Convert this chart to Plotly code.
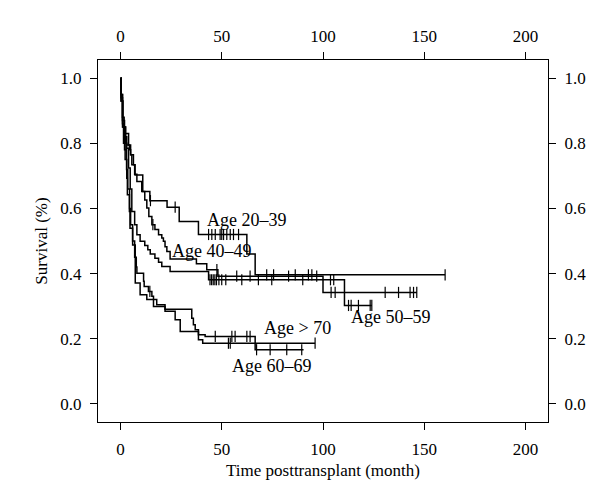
import numpy as np
import plotly.graph_objects as go

# ---------------- data ----------------
groups = ["Age 20–39", "Age 40–49", "Age 50–59", "Age 60–69", "Age > 70"]

t_20_39 = [0, 0.3, 1.0, 1.8, 2.5, 3.1, 4.4, 5.0, 5.6, 7.2, 11.0, 14.5, 23.0, 29.0, 38.5, 62.4, 66.5]
s_20_39 = [1.0, 0.95, 0.88, 0.85, 0.82, 0.795, 0.78, 0.765, 0.734, 0.703, 0.652, 0.624, 0.604, 0.56, 0.52, 0.46, 0.396]
end_20_39 = 160.3
c_20_39 = [14.8, 27.0, 43.5, 45.1, 46.8, 49.2, 50.0, 50.9, 52.5, 54.2, 55.8, 58.3,
           72.2, 75.6, 86.3, 92.8, 94.5, 160.3]

t_40_49 = [0, 0.3, 1.0, 2.0, 4.0, 5.0, 6.4, 7.0, 8.1, 10.5, 12.0, 13.0, 14.0, 15.5, 17.0,
           18.8, 20.4, 21.2, 22.0, 22.9, 24.5, 37.5, 42.6, 48.1, 100.0]
s_40_49 = [1.0, 0.94, 0.87, 0.83, 0.795, 0.765, 0.734, 0.705, 0.683, 0.652, 0.626, 0.601, 0.575,
           0.55, 0.535, 0.519, 0.509, 0.499, 0.482, 0.468, 0.445, 0.43, 0.412, 0.392, 0.342]
end_40_49 = 146.3
c_40_49 = [16.0, 47.6, 57.4, 64.0, 83.0, 96.9, 104.0, 106.0, 130.7, 137.3, 143.0, 144.7, 146.3]

t_50_59 = [0, 0.3, 1.0, 2.5, 3.1, 4.0, 4.8, 5.6, 7.0, 8.1, 9.7, 12.0, 13.5, 14.7, 17.0,
           18.8, 20.4, 24.5, 43.5, 110.6]
s_50_59 = [1.0, 0.93, 0.85, 0.80, 0.785, 0.724, 0.66, 0.591, 0.55, 0.519, 0.499, 0.486, 0.473,
           0.46, 0.447, 0.435, 0.422, 0.406, 0.381, 0.302]
end_50_59 = 124.1
c_50_59 = [44.2, 45.0, 45.8, 46.6, 47.4, 48.6, 50.0, 52.0, 59.9, 68.1, 74.7, 90.0,
           103.7, 105.3, 112.6, 113.9, 117.5, 123.3, 124.1]

t_60_69 = [0, 0.3, 1.0, 1.5, 2.3, 3.1, 3.4, 4.4, 4.7, 6.0, 7.3, 9.7, 13.0, 17.9, 22.0,
           35.2, 36.0, 36.9, 38.5, 41.8, 66.5]
s_60_69 = [1.0, 0.95, 0.86, 0.80, 0.75, 0.693, 0.642, 0.591, 0.539, 0.488, 0.371, 0.335, 0.32,
           0.304, 0.29, 0.263, 0.243, 0.227, 0.212, 0.207, 0.166]
end_60_69 = 90.4
c_60_69 = [46.8, 55.0, 56.6, 62.4, 64.0, 67.2, 73.9, 82.1, 89.5]

t_70 = [0, 0.3, 1.2, 2.0, 3.0, 3.6, 4.5, 5.0, 6.0, 7.0, 7.8, 8.1, 11.4, 11.7, 13.8, 15.5,
        16.3, 22.0, 27.0, 29.5, 38.5, 40.6]
s_70 = [1.0, 0.93, 0.85, 0.78, 0.72, 0.66, 0.60, 0.55, 0.50, 0.45, 0.42, 0.401, 0.376, 0.36,
        0.345, 0.33, 0.299, 0.284, 0.258, 0.222, 0.197, 0.186]
end_70 = 96.1
c_70 = [14.5, 53.3, 54.2, 96.1]

# label anchor positions (data units)
label_x = [41.5, 24.5, 112.6, 54.2, 69.8]
label_y = [0.565, 0.468, 0.268, 0.117, 0.232]

x_ticks = [0, 50, 100, 150, 200]
y_ticks = [0.0, 0.2, 0.4, 0.6, 0.8, 1.0]
y_ticktext = ["0.0", "0.2", "0.4", "0.6", "0.8", "1.0"]

curves = [
    (t_20_39, s_20_39, end_20_39, c_20_39),
    (t_40_49, s_40_49, end_40_49, c_40_49),
    (t_50_59, s_50_59, end_50_59, c_50_59),
    (t_60_69, s_60_69, end_60_69, c_60_69),
    (t_70, s_70, end_70, c_70),
]

FONT = "Liberation Serif"
fig = go.Figure()

for name, (t, s, end, cens) in zip(groups, curves):
    xs = list(t) + [end]
    ys = list(s) + [s[-1]]
    fig.add_trace(go.Scatter(x=xs, y=ys, mode="lines", line=dict(shape="hv", color="black", width=1.5),
                             name=name, showlegend=False, hoverinfo="skip"))
    idx = np.searchsorted(np.array(t), np.array(cens), side="right") - 1
    cy = [s[i] for i in idx]
    fig.add_trace(go.Scatter(x=cens, y=cy, mode="markers",
                             marker=dict(symbol="line-ns-open", size=8, color="black",
                                         line=dict(width=1.2, color="black")),
                             showlegend=False, hoverinfo="skip"))

# dummy trace for secondary (top / right) axes
fig.add_trace(go.Scatter(x=[None], y=[None], xaxis="x2", yaxis="y2", showlegend=False))

for name, lx, ly in zip(groups, label_x, label_y):
    fig.add_annotation(x=lx, y=ly, text=name, showarrow=False, xanchor="left", yanchor="middle",
                       font=dict(family=FONT, size=18, color="black"))

axis_common = dict(showgrid=False, zeroline=False, ticks="outside", ticklen=7, tickwidth=1.2,
                   tickcolor="black", tickfont=dict(family=FONT, size=17, color="black"))

XR = [-11.1, 211.1]
YR = [-0.056, 1.056]

fig.update_layout(
    width=600, height=493,
    margin=dict(l=90, r=60, t=52, b=79),
    paper_bgcolor="white", plot_bgcolor="white",
    showlegend=False,
    xaxis=dict(range=XR, tickvals=x_ticks, showline=True, linecolor="black",
               linewidth=1.3, mirror=True, ticklabelstandoff=4,
               title=dict(text="Time posttransplant (month)", font=dict(family=FONT, size=17, color="black"),
                          standoff=6),
               **axis_common),
    xaxis2=dict(range=XR, tickvals=x_ticks, overlaying="x", side="top", matches="x",
                showline=False, ticklabelstandoff=3, **axis_common),
    yaxis=dict(range=YR, tickvals=y_ticks, ticktext=y_ticktext, showline=True,
               linecolor="black", linewidth=1.3, mirror=True, ticklabelstandoff=5,
               title=dict(text="Survival (%)", font=dict(family=FONT, size=17, color="black"), standoff=8),
               **axis_common),
    yaxis2=dict(range=YR, tickvals=y_ticks, ticktext=y_ticktext, overlaying="y",
                side="right", matches="y", showline=False, ticklabelstandoff=5, **axis_common),
)

fig.write_html("out.html")
